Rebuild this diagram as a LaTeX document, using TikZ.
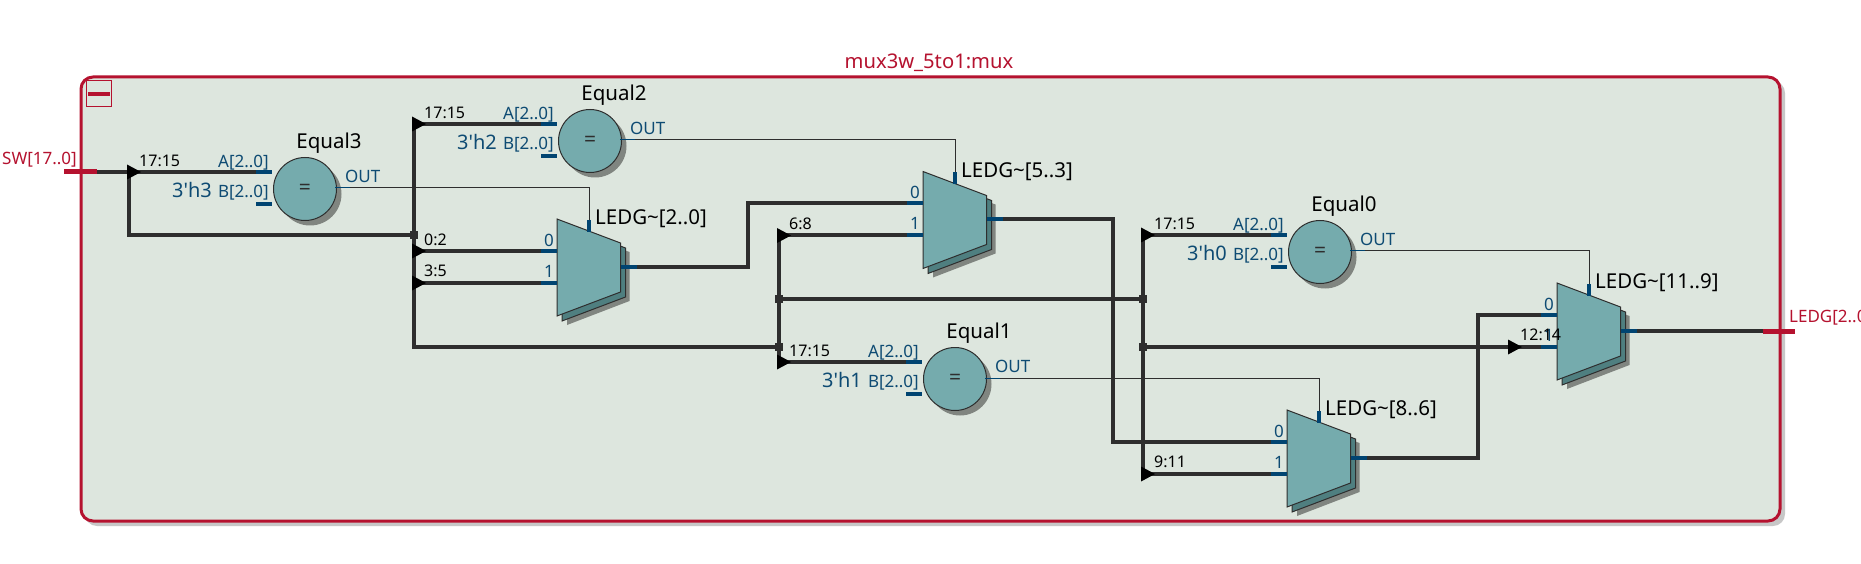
\documentclass[tikz,border=0pt]{standalone}
\usepackage{fontspec}
\setmainfont{Noto Sans}
\newfontfamily\constfont{Noto Sans}
\usetikzlibrary{calc,positioning,shapes.geometric,shadows}
\definecolor{framered}{HTML}{B5122F}
\definecolor{panelbg}{HTML}{DDE6DE}
\definecolor{gateteal}{HTML}{75ABAD}
\definecolor{gatedark}{HTML}{4F7F80}
\definecolor{gateshade}{HTML}{808580}
\definecolor{wiregray}{HTML}{2E2E2E}
\definecolor{pinblue}{HTML}{004471}
\definecolor{labelblue}{HTML}{0E4B73}
\tikzset{%
	wire/.style     = {line width=4pt, wiregray},
	thinwire/.style = {line width=1pt, wiregray},
	pinline/.style  = {line width=4pt, pinblue},
	outpin/.style   = {line width=1pt, pinblue},
	portline/.style = {line width=5pt, framered},
	eqgate/.style   = {circle, draw=wiregray, line width=1pt, fill=gateteal, minimum size=63pt, inner sep=0pt, font=\fontsize{21pt}{21pt}\selectfont\bfseries, text=wiregray, general shadow={fill=gateshade, shadow xshift=5pt, shadow yshift=-5pt}},
	ripper/.style   = {isosceles triangle, isosceles triangle stretches, fill=black, minimum width=15pt, minimum height=14pt, inner sep=0pt, outer sep=0pt, anchor=lower side},
	junct/.style    = {rectangle, fill=wiregray, minimum size=8pt, inner sep=0pt},
	namelab/.style  = {inner sep=0pt, text=black, font=\fontsize{20.5pt}{20.5pt}\selectfont},
	bitlab/.style   = {inner sep=0pt, anchor=west, text=black, font=\fontsize{16pt}{16pt}\selectfont},
	pinlab/.style   = {inner sep=0pt, text=labelblue, font=\fontsize{17pt}{17pt}\selectfont},
	constlab/.style = {inner sep=0pt, anchor=east, text=labelblue, font=\fontsize{20pt}{20pt}\selectfont\constfont},
	portlab/.style  = {inner sep=0pt, text=framered, font=\fontsize{17pt}{17pt}\selectfont},
}
\begin{document}
\begin{tikzpicture}[x=1pt,y=-1pt]
	\useasboundingbox (0,0) rectangle (1861,564);
	\fill[white] (0,0) rectangle (1861,564);
	% block frame
	\fill[black!22,rounded corners=12pt] (85,81) rectangle (1785,526);
	\draw[framered,line width=3pt,fill=panelbg,rounded corners=12pt] (81,77) rectangle (1780,521);
	\node[portlab,font=\fontsize{20.2pt}{20.2pt}\selectfont] (blockname) at (929,63) {mux3w\_5to1:mux};
	\node[draw=framered,line width=1pt,minimum width=25pt,minimum height=26pt,inner sep=0pt] (collapse) at (99,94) {};
	\draw[framered,line width=4pt] ($(collapse.center)+(-11,0)$) -- ($(collapse.center)+(11,0)$);
	% ports
	\coordinate (swport) at (97,172);
	\coordinate (ledport) at (1763,331);
	% compare gates
	\foreach \nm/\txt/\x/\y/\val in {eqa/Equal3/305/189/3'h3, eqb/Equal2/590/141/3'h2, eqc/Equal1/955/379/3'h1, eqd/Equal0/1320/252/3'h0}{
		\node[eqgate] (\nm) at (\x,\y) {=};
		\node[namelab] (\nm-name) at ({\x+24},{\y-46}) {\txt};
		\node[pinlab,anchor=east] (\nm-alab) at ({\x-36},{\y-26}) {A[2..0]};
		\node[pinlab,anchor=east] (\nm-blab) at ({\x-36},{\y+4}) {B[2..0]};
		\node[constlab] (\nm-val) at ({\x-93},{\y+1}) {\val};
		\node[pinlab,anchor=west] (\nm-outlab) at ({\x+40},{\y-13}) {OUT};
		\node[bitlab] (\nm-bits) at ({\x-166},{\y-28}) {17:15};
		\coordinate (\nm-a) at ({\x-49},{\y-17});
		\coordinate (\nm-b) at ({\x-49},{\y+15});
		\coordinate (\nm-o) at ({\x+30},{\y-1});
		\draw[pinline] (\nm-a) -- ++(16,0);
		\draw[pinline] (\nm-b) -- ++(16,0);
		\draw[outpin] (\nm-o) -- ++(15,0);
	}
	% muxes
	\foreach \nm/\txt/\x/\y in {mxa/2..0/557/219, mxb/5..3/923/171.5, mxc/8..6/1287/410, mxd/11..9/1557/283}{
		\begin{scope}[shift={(\x,\y)}]
			\fill[gateshade] (10,10) -- (72.5,33) -- (72.5,82) -- (10,106) -- cycle;
			\filldraw[fill=gatedark,draw=wiregray,line width=1pt] (5,5) -- (68.5,29) -- (68.5,78) -- (5,102) -- cycle;
			\filldraw[fill=gateteal,draw=wiregray,line width=1pt] (0,0) -- (63.5,24) -- (63.5,73) -- (0,97) -- cycle;
			\coordinate (\nm-p0) at (-16,32);
			\coordinate (\nm-p1) at (-16,64);
			\coordinate (\nm-q) at (80,48);
			\coordinate (\nm-s) at (32,1);
			\draw[pinline] (\nm-p0) -- ++(16,0);
			\draw[pinline] (\nm-p1) -- ++(16,0);
			\draw[pinline] (63.5,48) -- (\nm-q);
			\draw[pinline] (\nm-s) -- ++(0,12);
			\node[namelab,anchor=west] (\nm-name) at (38,0) {LEDG\textasciitilde[\txt]};
			\node[pinlab] (\nm-zero) at (-8,21) {0};
			\node[pinlab] (\nm-one) at (-8,52) {1};
		\end{scope}
	}
	% tap points
	\coordinate (tapa) at (129,172);
	\coordinate (tapb) at (414,124);
	\coordinate (tapc) at (414,251);
	\coordinate (tapd) at (414,283);
	\coordinate (tape) at (779,235.5);
	\coordinate (tapf) at (779,362);
	\coordinate (tapg) at (1143,235);
	\coordinate (taph) at (1143,474);
	\node[junct] (jna) at (414,235) {};
	\node[junct] (jnb) at (779,347) {};
	\node[junct] (jnc) at (779,299) {};
	\node[junct] (jnd) at (1143,299) {};
	\node[junct] (jne) at (1143,347) {};
	% bus wires
	\draw[wire] (swport) -- (eqa-a);
	\draw[wire] (tapa) |- (jna);
	\draw[wire] (tapb) -- (eqb-a);
	\draw[wire] (tapb) |- (jnb);
	\draw[wire] (tapc) -- (mxa-p0);
	\draw[wire] (tapd) -- (mxa-p1);
	\draw[wire] (tape) -- (tapf);
	\draw[wire] (tape) -- (mxb-p1);
	\draw[wire] (tapf) -- (eqc-a);
	\draw[wire] (jnc) -- (jnd);
	\draw[wire] (tapg) -- (taph);
	\draw[wire] (tapg) -- (eqd-a);
	\draw[wire] (taph) -- (mxc-p1);
	\draw[wire] (jne) -- (mxd-p1);
	\draw[wire] (mxa-q) -| (748,203.5) -- (mxb-p0);
	\draw[wire] (mxb-q) -| (1113,442) -- (mxc-p0);
	\draw[wire] (mxc-q) -| (1478,315) -- (mxd-p0);
	\draw[wire] (mxd-q) -- (ledport);
	% select lines
	\draw[thinwire] (eqa-o) ++(15,0) -| (mxa-s);
	\draw[thinwire] (eqb-o) ++(15,0) -| (mxb-s);
	\draw[thinwire] (eqc-o) ++(15,0) -| (mxc-s);
	\draw[thinwire] (eqd-o) ++(15,0) -| (mxd-s);
	% rippers
	\node[ripper] (ripa) at (127,172) {};
	\node[ripper] (ripb) at (412,124) {};
	\node[ripper] (ripc) at (412,251) {};
	\node[ripper] (ripd) at (412,283) {};
	\node[ripper] (ripe) at (777,235.5) {};
	\node[ripper] (ripf) at (777,362) {};
	\node[ripper] (ripg) at (1141,235) {};
	\node[ripper] (riph) at (1141,474) {};
	\node[ripper] (ripi) at (1508,347) {};
	\node[bitlab] (bitc) at (424,240) {0:2};
	\node[bitlab] (bitd) at (424,271) {3:5};
	\node[bitlab] (bite) at (789,224) {6:8};
	\node[bitlab] (bith) at (1154,462) {9:11};
	\node[bitlab] (biti) at (1520,335) {12:14};
	% port bars
	\draw[portline] (64,172) -- (swport);
	\draw[portline] (ledport) -- (1795,331);
	\node[portlab,anchor=east] (swlab) at (77,160) {SW[17..0]};
	\node[portlab,anchor=west] (ledlab) at (1789,318) {LEDG[2..0]};
\end{tikzpicture}
\end{document}
